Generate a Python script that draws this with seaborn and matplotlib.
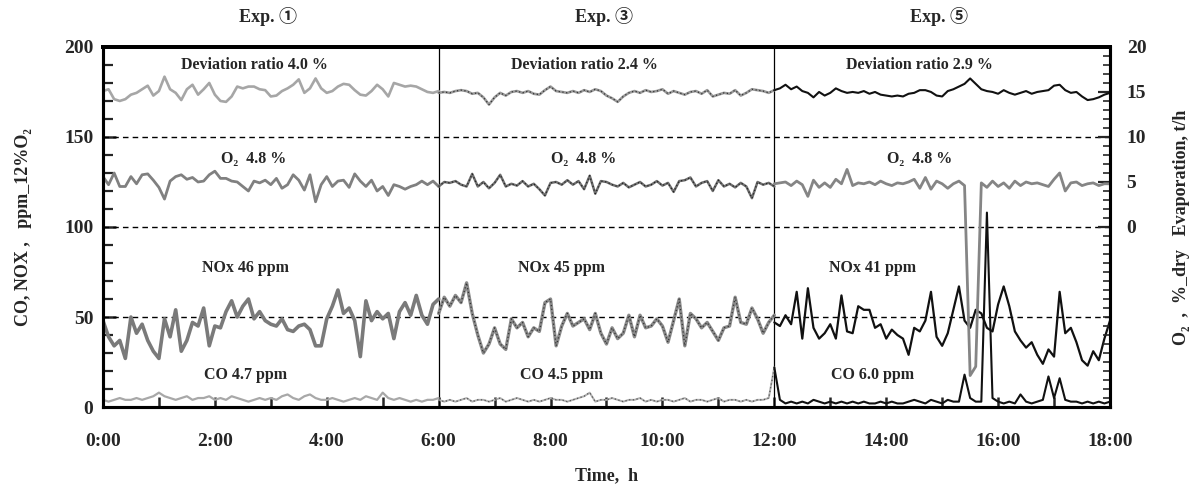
import numpy as np
import matplotlib
matplotlib.use("Agg")
import matplotlib.pyplot as plt
from matplotlib.ticker import MultipleLocator
import seaborn as sns

# =========================
# DATA (6 min steps)
# =========================

t_exp1 = np.round(np.arange(0.0, 6.01, 0.1), 1)
t_exp3 = np.round(np.arange(6.0, 12.01, 0.1), 1)
t_exp5 = np.round(np.arange(12.0, 18.01, 0.1), 1)

# evaporation, t/h (right axis)
evap_exp1 = [15.1, 15.3, 14.2, 14.0, 14.2, 14.7, 14.9, 15.3, 15.7, 14.6,
             15.1, 16.7, 15.3, 14.9, 14.1, 15.3, 15.8, 14.7, 15.3, 16.0,
             14.7, 14.0, 13.9, 14.5, 15.6, 15.4, 15.6, 15.6, 15.3, 15.2,
             14.5, 14.6, 15.1, 15.4, 15.8, 16.4, 14.9, 15.4, 16.5, 15.4,
             14.9, 15.1, 15.6, 15.9, 15.8, 15.2, 14.7, 14.6, 15.1, 15.8,
             15.3, 14.5, 16.0, 15.8, 15.6, 15.7, 15.6, 15.3, 15.0, 14.9, 15.1]
evap_exp3 = [14.9, 15.0, 14.9, 15.1, 15.2, 15.1, 14.8, 14.9, 14.4, 13.6,
             14.4, 14.9, 14.6, 15.0, 15.1, 14.9, 15.1, 14.8, 14.7, 15.2,
             15.6, 15.1, 15.0, 14.9, 15.1, 14.9, 15.2, 15.0, 15.3, 15.1,
             14.6, 14.3, 13.9, 14.5, 14.9, 15.1, 14.9, 15.2, 15.0, 15.1,
             15.3, 14.8, 15.1, 14.9, 14.7, 15.0, 15.1, 14.8, 15.2, 14.5,
             14.7, 14.9, 14.8, 15.2, 14.6, 14.9, 15.3, 15.2, 15.1, 14.9, 15.2]
evap_exp5 = [15.2, 15.4, 15.8, 15.3, 15.6, 15.1, 14.9, 14.4, 15.0, 14.6,
             14.9, 15.4, 15.1, 14.9, 15.0, 14.9, 15.1, 14.8, 15.0, 14.7,
             14.6, 14.5, 14.6, 14.5, 14.8, 14.9, 15.2, 15.2, 15.0, 14.6,
             14.5, 15.1, 15.3, 15.6, 15.9, 16.5, 15.9, 15.3, 15.1, 15.0,
             14.8, 15.2, 14.9, 14.7, 14.9, 15.1, 14.8, 15.0, 15.1, 15.2,
             15.7, 15.8, 15.2, 14.9, 15.0, 14.5, 14.1, 14.2, 14.4, 14.7, 14.9]

# O2, %_dry (right axis)
o2_exp1 = [5.6, 4.7, 6.0, 4.5, 4.5, 5.6, 4.8, 5.8, 5.9, 5.2,
           4.4, 3.1, 5.1, 5.6, 5.8, 5.3, 5.5, 5.0, 5.1, 5.8,
           6.2, 5.4, 5.4, 5.1, 5.0, 4.5, 4.0, 5.1, 4.9, 5.2,
           4.7, 5.4, 4.3, 4.7, 5.8, 5.2, 4.1, 5.8, 2.8, 4.7,
           5.6, 4.5, 5.1, 5.2, 4.4, 5.9, 5.1, 4.5, 5.2, 4.0,
           4.5, 3.5, 4.7, 4.5, 4.2, 4.5, 4.7, 5.1, 4.7, 5.1, 4.5]
o2_exp3 = [4.5, 5.0, 4.9, 5.1, 4.7, 4.5, 5.9, 4.5, 5.0, 4.3,
           4.9, 5.8, 4.5, 4.8, 4.6, 5.1, 4.5, 4.8, 4.2, 3.5,
           4.9, 5.0, 4.7, 5.2, 4.7, 5.1, 4.2, 5.7, 3.7, 5.1,
           5.0, 4.7, 4.5, 4.9, 4.4, 4.7, 5.0, 4.5, 4.7, 5.1,
           4.6, 4.9, 3.9, 5.1, 5.2, 5.5, 4.5, 4.9, 5.1, 4.0,
           5.2, 4.5, 4.8, 4.4, 4.9, 4.5, 3.2, 5.0, 4.7, 4.9, 4.5]
o2_exp5 = [4.8, 4.9, 5.0, 4.6, 5.1, 4.7, 3.4, 5.2, 4.4, 4.9,
           4.4, 5.3, 4.8, 6.4, 4.6, 4.9, 4.8, 5.0, 4.7, 5.1,
           4.8, 4.6, 4.9, 4.8, 5.0, 5.3, 4.3, 5.5, 4.2, 5.1,
           4.8, 4.3, 4.8, 5.1, 4.6, -16.5, -15.5, 4.9, 4.4, 5.1,
           4.5, 4.9, 4.3, 5.1, 4.6, 5.0, 4.8, 4.9, 4.7, 4.5,
           5.3, 6.0, 4.0, 4.9, 5.0, 4.6, 4.8, 4.9, 4.6, 4.8, 4.8]

# NOx, ppm (left axis)
nox_exp1 = [48, 39, 34, 37, 27, 50, 41, 46, 37, 31,
            27, 49, 39, 54, 31, 37, 47, 45, 55, 34,
            45, 44, 53, 59, 50, 56, 60, 49, 53, 48,
            46, 45, 49, 43, 42, 45, 46, 43, 34, 34,
            49, 56, 65, 52, 55, 48, 28, 59, 48, 53,
            49, 52, 38, 53, 58, 51, 62, 51, 46, 57, 60]
nox_exp3 = [52, 61, 56, 62, 58, 69, 52, 40, 30, 35,
            44, 35, 32, 49, 44, 47, 39, 44, 42, 58,
            60, 34, 45, 52, 45, 47, 49, 43, 52, 41,
            35, 44, 38, 41, 51, 39, 51, 44, 45, 49,
            45, 36, 48, 60, 34, 52, 49, 44, 47, 42,
            37, 44, 45, 61, 47, 46, 55, 49, 41, 47, 51]
nox_exp5 = [47, 45, 51, 46, 64, 38, 66, 44, 38, 41,
            46, 38, 62, 42, 41, 56, 54, 54, 44, 46,
            38, 43, 40, 38, 29, 44, 42, 48, 64, 39,
            34, 41, 54, 67, 48, 44, 54, 52, 44, 42,
            57, 67, 56, 42, 37, 33, 36, 29, 24, 32,
            28, 64, 41, 44, 36, 26, 23, 31, 26, 38, 48]

# CO, ppm (left axis)
co_exp1 = [4, 3, 4, 5, 4, 4, 5, 4, 5, 6,
           8, 6, 5, 4, 5, 6, 4, 5, 5, 6,
           4, 5, 4, 6, 5, 4, 3, 4, 5, 4,
           5, 4, 6, 7, 5, 4, 6, 7, 5, 4,
           4, 5, 4, 3, 4, 5, 4, 6, 5, 4,
           8, 5, 4, 5, 4, 3, 4, 3, 4, 4, 5]
co_exp3 = [4, 3, 4, 3, 4, 5, 3, 4, 4, 3,
           4, 5, 3, 4, 5, 4, 3, 4, 3, 4,
           5, 4, 4, 3, 4, 5, 6, 8, 3, 4,
           4, 5, 4, 3, 4, 4, 5, 3, 4, 3,
           4, 4, 3, 4, 5, 3, 4, 4, 3, 4,
           5, 3, 4, 4, 3, 4, 3, 4, 4, 5, 22]
co_exp5 = [22, 4, 2, 3, 2, 3, 2, 4, 3, 2,
           3, 2, 3, 2, 3, 2, 3, 2, 2, 3,
           2, 3, 2, 2, 3, 4, 3, 2, 4, 3,
           2, 4, 3, 3, 18, 5, 3, 3, 108, 5,
           3, 2, 3, 2, 7, 3, 2, 3, 4, 17,
           5, 16, 4, 3, 3, 2, 3, 2, 3, 2, 3]

hour_ticks = [0, 2, 4, 6, 8, 10, 12, 14, 16, 18]
hour_labels = ["0:00", "2:00", "4:00", "6:00", "8:00", "10:00",
               "12:00", "14:00", "16:00", "18:00"]
exp_titles = ["Exp. \u2460", "Exp. \u2462", "Exp. \u2464"]
dev_labels = ["Deviation ratio 4.0 %", "Deviation ratio 2.4 %", "Deviation ratio 2.9 %"]
o2_labels = ["O\u2082  4.8 %", "O\u2082  4.8 %", "O\u2082  4.8 %"]
nox_labels = ["NOx 46 ppm", "NOx 45 ppm", "NOx 41 ppm"]
co_labels = ["CO 4.7 ppm", "CO 4.5 ppm", "CO 6.0 ppm"]

# =========================
# STYLE
# =========================

sns.set_style("ticks")
plt.rcParams['font.family'] = ['Liberation Serif', 'DejaVu Serif', 'Noto Sans CJK JP']
plt.rcParams['font.weight'] = 'bold'
plt.rcParams['axes.labelweight'] = 'bold'


def draw(ax, t, y, color, lw, dots=None):
    sns.lineplot(x=t, y=y, ax=ax, color=color, linewidth=lw,
                 estimator=None, sort=False, legend=False)
    if dots is not None:
        # dark dotted trace on top, like the scanned printout
        sns.lineplot(x=t, y=y, ax=ax, color=dots, linewidth=0.9,
                     linestyle=(0, (1, 2)), estimator=None, sort=False, legend=False)


fig = plt.figure(figsize=(12, 4.84), dpi=100)
ax = fig.add_axes([0.0858, 0.159, 0.8392, 0.744])
ax2 = ax.twinx()

# left axis: NOx, CO
draw(ax, t_exp1, nox_exp1, '#7a7a7a', 2.6)
draw(ax, t_exp1, co_exp1, '#a8a8a8', 1.6)
draw(ax, t_exp3, nox_exp3, '#8a8a8a', 2.4, dots='#333333')
draw(ax, t_exp3, co_exp3, '#b0b0b0', 1.4, dots='#555555')
draw(ax, t_exp5, nox_exp5, '#111111', 1.6)
draw(ax, t_exp5, co_exp5, '#111111', 1.5)

# right axis: evaporation, O2
draw(ax2, t_exp1, evap_exp1, '#a6a6a6', 1.9)
draw(ax2, t_exp1, o2_exp1, '#808080', 2.0)
draw(ax2, t_exp3, evap_exp3, '#9a9a9a', 1.9, dots='#333333')
draw(ax2, t_exp3, o2_exp3, '#707070', 1.8, dots='#222222')
draw(ax2, t_exp5, evap_exp5, '#111111', 1.5)
draw(ax2, t_exp5, o2_exp5, '#858585', 2.0)

for yv in [50, 100, 150]:
    ax.axhline(yv, color='black', linestyle=(0, (4, 3)), linewidth=1.0, zorder=1)
for xv in [6, 12]:
    ax.axvline(xv, color='black', linewidth=0.9, zorder=1)

ax.set_xlim(0, 18)
ax.set_ylim(0, 200)
ax2.set_ylim(-20, 20)

ax.set_xticks(hour_ticks)
ax.set_xticklabels(hour_labels)
ax.xaxis.set_minor_locator(MultipleLocator(1))
ax.set_yticks([0, 50, 100, 150, 200])
ax.yaxis.set_minor_locator(MultipleLocator(10))
ax2.set_yticks([0, 5, 10, 15, 20])
ax2.yaxis.set_minor_locator(MultipleLocator(1))

ax.tick_params(axis='x', which='both', direction='in', length=7, width=1.8,
               labelsize=14, pad=19)
ax.tick_params(axis='y', which='major', direction='in', length=9, width=1.8,
               labelsize=14, pad=7)
ax.tick_params(axis='y', which='minor', direction='in', length=7, width=1.6)
ax.tick_params(axis='x', which='both', top=False)
ax2.tick_params(axis='y', which='major', direction='in', length=9, width=1.6,
                labelsize=14, pad=12)
ax2.tick_params(axis='y', which='minor', direction='in', length=5, width=1.2)
ax2.tick_params(axis='x', which='both', top=False, bottom=False)

for a in (ax, ax2):
    for side in ['left', 'right', 'top', 'bottom']:
        a.spines[side].set_visible(True)
        a.spines[side].set_linewidth(2.2)
        a.spines[side].set_color('black')
    a.spines['top'].set_linewidth(2.8)
for lab in ax.get_xticklabels() + ax.get_yticklabels() + ax2.get_yticklabels():
    lab.set_fontweight('bold')

ax.set_xlabel("Time,  h", fontsize=13, fontweight='bold', labelpad=12)
ax.set_ylabel("CO, NOX ,   ppm_12%O\u2082", fontsize=13, fontweight='bold')
ax.yaxis.set_label_coords(-0.070, 0.5)
ax2.set_ylabel("O\u2082  ,  %_dry   Evaporation, t/h", fontsize=13,
               fontweight='bold', rotation=90)
ax2.yaxis.set_label_coords(1.063, 0.5)

# experiment titles and in-plot annotations
title_x = [2.95, 8.95, 14.95]
dev_x = [2.7, 8.6, 14.6]
nox_x = [2.55, 8.2, 13.75]
for i in range(3):
    ax.text(title_x[i], 217, exp_titles[i], ha='center', va='center',
            fontsize=13, fontweight='bold', clip_on=False)
    ax.text(dev_x[i], 190, dev_labels[i], ha='center', va='center',
            fontsize=11.5, fontweight='bold')
    ax.text(dev_x[i], 138, o2_labels[i], ha='center', va='center',
            fontsize=11.5, fontweight='bold')
    ax.text(nox_x[i], 77, nox_labels[i], ha='center', va='center',
            fontsize=11.5, fontweight='bold')
    ax.text(nox_x[i], 18, co_labels[i], ha='center', va='center',
            fontsize=11.5, fontweight='bold')

fig.savefig("out.png", dpi=100)
